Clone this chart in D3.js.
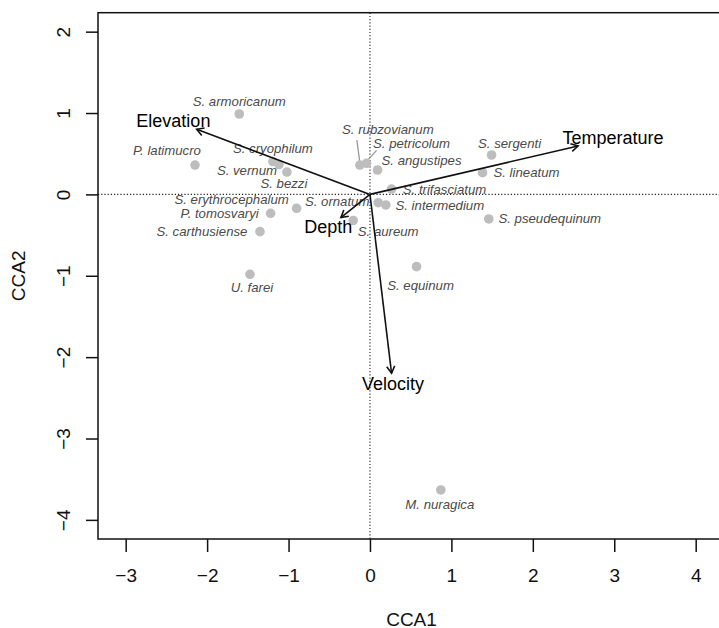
<!DOCTYPE html>
<html>
<head>
<meta charset="utf-8">
<script src="https://cdn.jsdelivr.net/npm/d3@7"></script>
<style>
  body { margin: 0; background: #fff; }
  svg { display: block; }
</style>
</head>
<body>
<script>
// species scores (CCA1, CCA2)
var species = ["S. armoricanum", "P. latimucro", "S. cryophilum", "S. vernum", "S. bezzi",
  "S. erythrocephalum", "P. tomosvaryi", "S. carthusiense", "U. farei", "S. aureum",
  "S. ornatum", "S. intermedium", "S. rubzovianum", "S. petricolum", "S. angustipes",
  "S. trifasciatum", "S. sergenti", "S. lineatum", "S. pseudequinum", "S. equinum", "M. nuragica"];
var cca1 = [-1.605, -2.149, -1.192, -1.118, -1.020, -0.901, -1.220, -1.351, -1.474, -0.206,
  0.101, 0.195, -0.124, -0.042, 0.093, 0.265, 1.493, 1.382, 1.459, 0.572, 0.870];
var cca2 = [0.988, 0.361, 0.404, 0.367, 0.275, -0.171, -0.232, -0.458, -0.982, -0.321,
  -0.102, -0.130, 0.361, 0.382, 0.300, 0.066, 0.484, 0.267, -0.302, -0.888, -3.632];

// environmental biplot arrows
var envVars = ["Elevation", "Temperature", "Depth", "Velocity"];
var envCCA1 = [-2.128, 2.556, -0.357, 0.265];
var envCCA2 = [0.800, 0.595, -0.284, -2.198];

var xTicks = [-3, -2, -1, 0, 1, 2, 3, 4];
var yTicks = [-4, -3, -2, -1, 0, 1, 2];

// label offsets in pixels (where the labeller put each name)
var labelOffset = {
  "S. armoricanum": [0, -13], "P. latimucro": [-28, -15], "S. cryophilum": [0, -13],
  "S. vernum": [-32, 6], "S. bezzi": [-3, 11], "S. erythrocephalum": [-65, -9],
  "P. tomosvaryi": [-51, 0], "S. carthusiense": [-58, 0], "U. farei": [2, 13],
  "S. aureum": [35, 11], "S. ornatum": [-41, -1], "S. intermedium": [54, 1],
  "S. rubzovianum": [28, -36], "S. petricolum": [45, -20], "S. angustipes": [44, -9],
  "S. trifasciatum": [53, 0], "S. sergenti": [18, -12], "S. lineatum": [44, 0],
  "S. pseudequinum": [61, 0], "S. equinum": [4, 19], "M. nuragica": [-1, 15]
};
// names that got a leader line
var leaders = {"S. rubzovianum": [[-3, -25], [0, -2]], "S. petricolum": [[10, -13], [1, -3]]};

var W = 719, H = 628;
var box = {left: 98, right: 725, top: 12.7, bottom: 539};

var x = d3.scaleLinear().domain([-3.34, 4.36]).range([box.left, box.right]);
var y = d3.scaleLinear().domain([-4.235, 2.233]).range([box.bottom, box.top]);

var svg = d3.select("body").append("svg")
    .attr("width", W)
    .attr("height", H)
    .style("font-family", "'Liberation Sans', Arial, Helvetica, sans-serif");

// dotted zero lines
svg.append("line")
    .attr("x1", box.left).attr("x2", box.right)
    .attr("y1", y(0)).attr("y2", y(0))
    .attr("stroke", "#222").attr("stroke-width", 1.1)
    .attr("stroke-dasharray", "1.2,2");
svg.append("line")
    .attr("x1", x(0)).attr("x2", x(0))
    .attr("y1", box.top).attr("y2", box.bottom)
    .attr("stroke", "#222").attr("stroke-width", 1.1)
    .attr("stroke-dasharray", "1.2,2");

var pts = species.map(function(s, i) { return {name: s, x: cca1[i], y: cca2[i]}; });

// leader lines
svg.selectAll(".leader")
    .data(pts.filter(function(d) { return leaders[d.name]; }))
  .enter().append("line")
    .attr("class", "leader")
    .attr("x1", function(d) { return x(d.x) + leaders[d.name][0][0]; })
    .attr("y1", function(d) { return y(d.y) + leaders[d.name][0][1]; })
    .attr("x2", function(d) { return x(d.x) + leaders[d.name][1][0]; })
    .attr("y2", function(d) { return y(d.y) + leaders[d.name][1][1]; })
    .attr("stroke", "#999").attr("stroke-width", 1.3);

// species points
svg.selectAll(".pt")
    .data(pts)
  .enter().append("circle")
    .attr("class", "pt")
    .attr("cx", function(d) { return x(d.x); })
    .attr("cy", function(d) { return y(d.y); })
    .attr("r", 4.8)
    .attr("fill", "#bdbdbd");

// species names
svg.selectAll(".sp")
    .data(pts)
  .enter().append("text")
    .attr("class", "sp")
    .attr("x", function(d) { return x(d.x) + labelOffset[d.name][0]; })
    .attr("y", function(d) { return y(d.y) + labelOffset[d.name][1]; })
    .attr("text-anchor", "middle")
    .attr("dominant-baseline", "central")
    .style("font-style", "italic")
    .style("font-size", "13.2px")
    .attr("fill", "#4a4a4a")
    .text(function(d) { return d.name; });

// biplot arrows
var env = envVars.map(function(v, i) { return {name: v, x: envCCA1[i], y: envCCA2[i]}; });
var ox = x(0), oy = y(0);

var arrows = svg.selectAll(".env").data(env).enter().append("g").attr("class", "env");

arrows.append("line")
    .attr("x1", ox).attr("y1", oy)
    .attr("x2", function(d) { return x(d.x); })
    .attr("y2", function(d) { return y(d.y); })
    .attr("stroke", "#111").attr("stroke-width", 1.6);

arrows.append("path")
    .attr("d", function(d) {
      var hx = x(d.x), hy = y(d.y);
      var a = Math.atan2(hy - oy, hx - ox), len = 8, sp = Math.PI / 6;
      return "M" + (hx - len * Math.cos(a - sp)) + "," + (hy - len * Math.sin(a - sp))
        + "L" + hx + "," + hy
        + "L" + (hx - len * Math.cos(a + sp)) + "," + (hy - len * Math.sin(a + sp));
    })
    .attr("fill", "none").attr("stroke", "#111").attr("stroke-width", 1.6);

// arrow labels pushed just past the head
arrows.append("text")
    .attr("text-anchor", "middle")
    .attr("dominant-baseline", "central")
    .style("font-size", "18px")
    .attr("fill", "#000")
    .text(function(d) { return d.name; })
    .each(function(d) {
      var hx = x(d.x), hy = y(d.y);
      var dx = hx - ox, dy = hy - oy, l = Math.sqrt(dx * dx + dy * dy);
      var ux = dx / l, uy = dy / l;
      var bb = this.getBBox();
      var t = Math.min(bb.width / 2 / Math.max(Math.abs(ux), 1e-6), 7 / Math.max(Math.abs(uy), 1e-6));
      d3.select(this)
        .attr("x", hx + ux * (t + 5))
        .attr("y", hy + uy * (t + 4));
    });

// plot box
svg.append("rect")
    .attr("x", box.left).attr("y", box.top)
    .attr("width", box.right - box.left)
    .attr("height", box.bottom - box.top)
    .attr("fill", "none").attr("stroke", "#111").attr("stroke-width", 1.5);

function fmt(d) { return d < 0 ? "\u2212" + Math.abs(d) : String(d); }

// x axis
var gx = svg.append("g")
    .attr("transform", "translate(0," + box.bottom + ")")
    .call(d3.axisBottom(x).tickValues(xTicks).tickSize(13).tickFormat(fmt));
gx.select(".domain").remove();
gx.selectAll(".tick line").attr("stroke", "#111").attr("stroke-width", 1.5);
gx.selectAll(".tick text")
    .attr("y", 36).attr("dy", null)
    .attr("dominant-baseline", "central")
    .style("font-family", "'Liberation Sans Narrow', 'Arial Narrow', 'Liberation Sans', sans-serif")
    .style("font-size", "19px").attr("fill", "#111");

// y axis
var gy = svg.append("g")
    .attr("transform", "translate(" + box.left + ",0)")
    .call(d3.axisLeft(y).tickValues(yTicks).tickSize(12).tickFormat(fmt));
gy.select(".domain").remove();
gy.selectAll(".tick line").attr("stroke", "#111").attr("stroke-width", 1.5);
gy.selectAll(".tick text")
    .attr("x", 0).attr("y", -35).attr("dy", null)
    .attr("text-anchor", "middle")
    .attr("dominant-baseline", "central")
    .attr("transform", "rotate(-90)")
    .style("font-family", "'Liberation Sans Narrow', 'Arial Narrow', 'Liberation Sans', sans-serif")
    .style("font-size", "19px").attr("fill", "#111");

// axis titles
svg.append("text")
    .attr("x", (box.left + box.right) / 2).attr("y", 619)
    .attr("text-anchor", "middle").attr("dominant-baseline", "central")
    .style("font-family", "'Liberation Sans Narrow', 'Arial Narrow', 'Liberation Sans', sans-serif")
    .style("font-size", "19px").attr("fill", "#111")
    .text("CCA1");
svg.append("text")
    .attr("transform", "translate(18," + ((box.top + box.bottom) / 2) + ") rotate(-90)")
    .attr("text-anchor", "middle").attr("dominant-baseline", "central")
    .style("font-family", "'Liberation Sans Narrow', 'Arial Narrow', 'Liberation Sans', sans-serif")
    .style("font-size", "19px").attr("fill", "#111")
    .text("CCA2");
</script>
</body>
</html>
